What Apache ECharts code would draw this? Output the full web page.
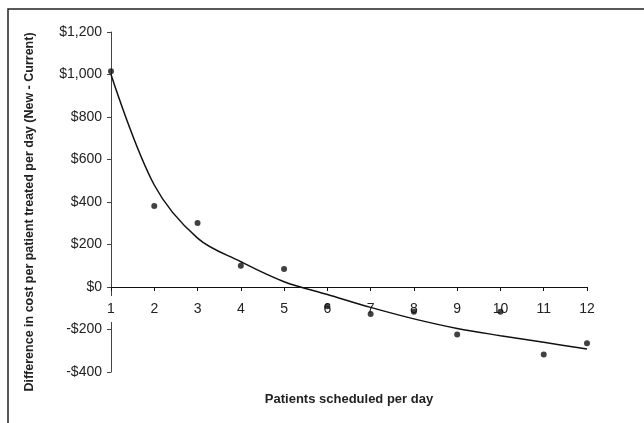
<!DOCTYPE html>
<html>
<head>
<meta charset="utf-8">
<script src="https://cdn.jsdelivr.net/npm/echarts@6/dist/echarts.min.js"></script>
<style>
html,body{margin:0;padding:0;background:#fff;}
#c{width:644px;height:423px;}
</style>
</head>
<body>
<div id="c"></div>
<script>
var patients = [1,2,3,4,5,6,7,8,9,10,11,12];
var costDiff = [1015,381,301,100,85,-90,-127,-116,-223,-116,-318,-265];
var trendValues = [1000,480,230,119,25,-35,-96,-150,-195,-229,-260,-292];
var yTicks = [-400,-200,0,200,400,600,800,1000,1200];

function money(v){
  var s = '$' + Math.abs(v).toLocaleString('en-US');
  return v < 0 ? '-' + s : s;
}

var chart = echarts.init(document.getElementById('c'));
var font = '"Liberation Sans", Arial, sans-serif';
chart.setOption({
  animation:false,
  backgroundColor:'#fff',
  graphic:[{type:'rect',shape:{x:8,y:9,width:700,height:500},style:{fill:'none',stroke:'#222',lineWidth:1.5},z:-1}],
  grid:{left:111,right:57,top:32,bottom:51,containLabel:false,outerBoundsMode:'none'},
  xAxis:{
    type:'value',min:1,max:12,interval:1,z:1,position:'bottom',offset:-85,
    axisLine:{onZero:false,lineStyle:{color:'#111',width:1}},
    axisTick:{show:true,length:4,lineStyle:{color:'#111'}},
    axisLabel:{color:'#222',fontFamily:font,fontSize:14,margin:9,
      formatter:function(v){return v===1?'{w|1}':'{n|'+v+'}';},
      rich:{
        w:{backgroundColor:'#fff',padding:[6,3,6,3],fontSize:14,fontFamily:font,color:'#222'},
        n:{padding:[6,3,6,3],fontSize:14,fontFamily:font,color:'#222'}
      }},
    splitLine:{show:false},
    name:'Patients scheduled per day',nameLocation:'middle',nameGap:106,
    nameTextStyle:{fontFamily:font,fontWeight:'bold',fontSize:13,color:'#222'}
  },
  yAxis:{
    type:'value',min:yTicks[0],max:yTicks[yTicks.length-1],interval:200,z:0,
    axisLine:{show:true,lineStyle:{color:'#444',width:1}},
    axisTick:{show:true,length:4,lineStyle:{color:'#444'}},
    axisLabel:{color:'#222',fontFamily:font,fontSize:14,margin:9,formatter:money},
    splitLine:{show:false},
    name:'Difference in cost per patient treated per day (New - Current)',
    nameLocation:'middle',nameGap:75,
    nameTextStyle:{fontFamily:font,fontWeight:'bold',fontSize:12.5,color:'#222',padding:[0,20,0,0]}
  },
  series:[
    {type:'line',data:patients.map(function(p,i){return [p,trendValues[i]];}),
     smooth:0.35,showSymbol:false,lineStyle:{color:'#111',width:1.5},z:2},
    {type:'scatter',data:patients.map(function(p,i){return [p,costDiff[i]];}),
     symbolSize:6,itemStyle:{color:'#111'},z:3}
  ]
});
</script>
</body>
</html>
